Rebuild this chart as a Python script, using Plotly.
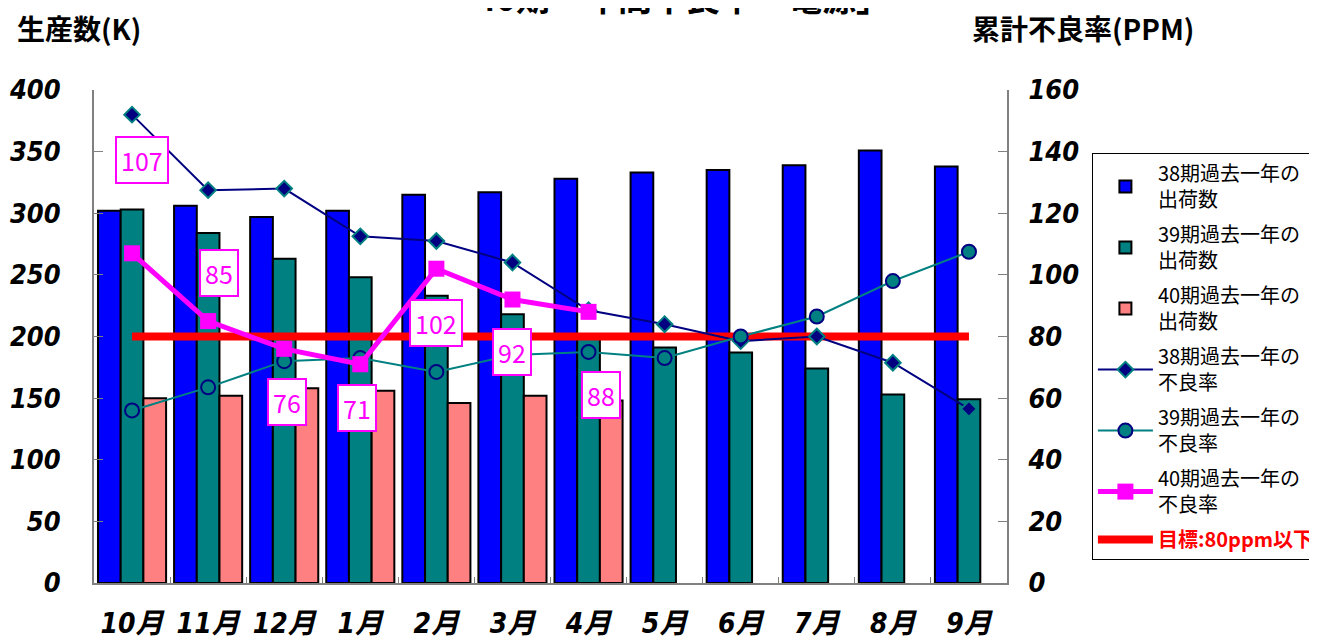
import plotly.graph_objects as go

months = ["10月", "11月", "12月", "1月", "2月", "3月", "4月", "5月", "6月", "7月", "8月", "9月"]
ship38 = [302, 306, 297, 302, 315, 317, 328, 333, 335, 339, 351, 338]
ship39 = [303, 284, 263, 248, 233, 218, 200, 191, 187, 174, 153, 149]
ship40 = [150, 152, 158, 156, 146, 152, 148, None, None, None, None, None]
rate38 = [152, 127.5, 128, 112.5, 111, 104, 88.5, 84, 78.5, 80, 71.5, 56.5]
rate39 = [56, 63.5, 72, 73, 68.5, 74, 75, 73, 80, 86.5, 98, 107.5]
rate40 = [107, 85, 76, 71, 102, 92, 88]
target = [80] * 12

names_bar = ["38期過去一年の<br>出荷数", "39期過去一年の<br>出荷数", "40期過去一年の<br>出荷数"]
names_rate = ["38期過去一年の<br>不良率", "39期過去一年の<br>不良率", "40期過去一年の<br>不良率"]
target_name = "<span style='color:#FF0000'><b>目標:80ppm以下</b></span>"
title_text = "40期「年間不良率ー電源」"
y1_title = "生産数(K)"
y2_title = "累計不良率(PPM)"
# label offsets (pixels) for the 40期 data labels
label_dx = [10, 11, 3, -3, 0, 0, 12]
label_dy = [-93, -48, 53, 44, 54, 52, 83]

fig = go.Figure()
for vals, name, col in zip([ship38, ship39, ship40], names_bar, ["#0000FF", "#008080", "#FF8080"]):
    fig.add_trace(go.Bar(x=months, y=vals, name=name, marker=dict(color=col, line=dict(color="#000000", width=2)),
                         yaxis="y", legendgroup=name))

fig.add_trace(go.Scatter(x=months, y=target, name=target_name, mode="lines", yaxis="y2",
                         line=dict(color="#FF0000", width=8), legendrank=2000, legendgroup="t"))
fig.add_trace(go.Scatter(x=months, y=rate38, name=names_rate[0], mode="lines+markers", yaxis="y2",
                         line=dict(color="#000080", width=2),
                         marker=dict(symbol="diamond", size=12, color="#000080", line=dict(color="#008080", width=2)),
                         legendgroup="r38"))
fig.add_trace(go.Scatter(x=months, y=rate39, name=names_rate[1], mode="lines+markers", yaxis="y2",
                         line=dict(color="#008080", width=2),
                         marker=dict(symbol="circle", size=14, color="#008080", line=dict(color="#000080", width=2)),
                         legendgroup="r39"))
fig.add_trace(go.Scatter(x=months[:len(rate40)], y=rate40, name=names_rate[2], mode="lines+markers", yaxis="y2",
                         line=dict(color="#FF00FF", width=5),
                         marker=dict(symbol="square", size=16, color="#FF00FF"),
                         legendgroup="r40"))

tickfont = dict(family="DejaVu Sans Condensed, Liberation Sans Narrow, Noto Sans CJK JP", size=27,
                color="#000000", weight="bold", style="italic")
xtickfont = dict(tickfont, size=28)

annotations = []
for m, v, dx, dy in zip(months, rate40, label_dx, label_dy):
    annotations.append(dict(x=m, y=v, xref="x", yref="y2", text=str(v), showarrow=True, arrowcolor="rgba(0,0,0,0)",
                            arrowwidth=0.1, arrowhead=0, ax=dx, ay=dy,
                            font=dict(family="Noto Sans CJK JP, Noto Sans", size=25, color="#FF00FF"),
                            bgcolor="#FFFFFF", bordercolor="#FF00FF", borderwidth=2, borderpad=4))
annotations.append(dict(x=-0.086, y=1.126, xref="paper", yref="paper", text=y1_title, showarrow=False,
                        xanchor="left", yanchor="middle",
                        font=dict(family="Noto Sans CJK JP", size=28, color="#000000", weight="bold")))
annotations.append(dict(x=0.960, y=1.126, xref="paper", yref="paper", text=y2_title, showarrow=False,
                        xanchor="left", yanchor="middle",
                        font=dict(family="Noto Sans CJK JP", size=28, color="#000000", weight="bold")))
annotations.append(dict(x=0.645, y=1.189, xref="paper", yref="paper", text=title_text, showarrow=False,
                        xanchor="center", yanchor="middle",
                        font=dict(family="Noto Sans CJK JP", size=34, color="#000000", weight="bold")))

fig.update_layout(
    width=1317, height=640,
    margin=dict(l=86, r=318, t=82, b=65, autoexpand=False),
    paper_bgcolor="#FFFFFF", plot_bgcolor="#FFFFFF",
    barmode="group", bargap=0.105, bargroupgap=0,
    showlegend=True,
    legend=dict(x=1.093, y=0.872, xanchor="left", yanchor="top", bgcolor="#FFFFFF",
                bordercolor="#000000", borderwidth=1, traceorder="grouped", tracegroupgap=6,
                font=dict(family="Noto Sans CJK JP", size=20, color="#000000"), itemwidth=55),
    xaxis=dict(range=[-0.5, 11.5], showline=True, linecolor="#808080", linewidth=2, ticks="inside", ticklen=6,
               tickson="boundaries", tickcolor="#808080", tickfont=xtickfont, tickangle=0, ticklabelstandoff=14,
               showgrid=False, automargin=False),
    yaxis=dict(range=[0, 400], dtick=50, showline=True, linecolor="#808080", linewidth=2, ticks="inside",
               ticklen=9, tickcolor="#808080", tickfont=tickfont, ticklabelstandoff=26, showgrid=False,
               zeroline=False, automargin=False),
    yaxis2=dict(range=[0, 160], dtick=20, overlaying="y", side="right", showline=True, linecolor="#808080",
                linewidth=2, ticks="inside", ticklen=9, tickcolor="#808080", tickfont=tickfont,
                ticklabelstandoff=14, showgrid=False, zeroline=False, automargin=False),
    annotations=annotations,
)

fig.write_html("out.html")
